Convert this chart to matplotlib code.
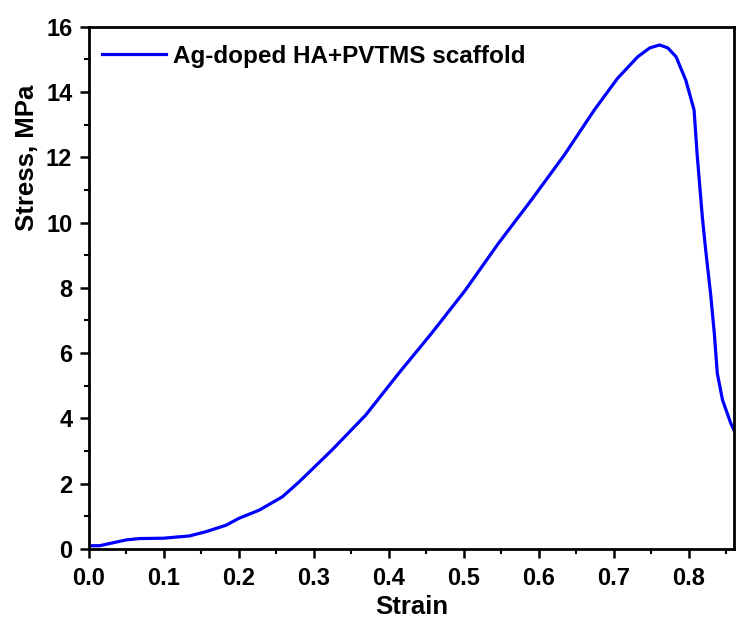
import matplotlib

matplotlib.use("Agg")
import matplotlib.pyplot as plt
from matplotlib.ticker import MultipleLocator

plt.rcParams["font.family"] = ["Liberation Sans", "DejaVu Sans"]
plt.rcParams["font.weight"] = "bold"

# stress-strain curve
strain = [0.0, 0.014, 0.03, 0.05, 0.068, 0.099, 0.134, 0.156, 0.183, 0.2,
          0.227, 0.258, 0.28, 0.324, 0.369, 0.413, 0.457, 0.502, 0.546, 0.59,
          0.634, 0.674, 0.705, 0.732, 0.748, 0.761, 0.772, 0.783, 0.796, 0.807,
          0.811, 0.818, 0.8225, 0.829, 0.834, 0.838, 0.845, 0.856, 0.86]
stress = [0.1, 0.1, 0.18, 0.28, 0.32, 0.33, 0.40, 0.53, 0.73, 0.94,
          1.19, 1.60, 2.05, 3.03, 4.10, 5.38, 6.61, 7.93, 9.36, 10.69,
          12.07, 13.45, 14.42, 15.08, 15.35, 15.44, 15.35, 15.08, 14.36, 13.45,
          12.12, 10.18, 9.16, 7.83, 6.61, 5.38, 4.56, 3.85, 3.65]
label = "Ag-doped HA+PVTMS scaffold"

fig = plt.figure(figsize=(7.36, 6.19), dpi=100)
ax = fig.add_axes([0.1209, 0.1131, 0.997 - 0.1209, 0.9569 - 0.1131])
ax.plot(strain, stress, color="#0000ff", lw=2.3, solid_joinstyle="round", label=label)

ax.set_xlim(0, 0.86)
ax.set_ylim(0, 16)
ax.xaxis.set_major_locator(MultipleLocator(0.1))
ax.xaxis.set_minor_locator(MultipleLocator(0.05))
ax.yaxis.set_major_locator(MultipleLocator(2))
ax.yaxis.set_minor_locator(MultipleLocator(1))
ax.xaxis.set_major_formatter(lambda v, p: f"{v:.1f}")

for s in ax.spines.values():
    s.set_linewidth(2.0)
ax.tick_params(which="major", direction="out", length=6.5, width=1.8, labelsize=17)
ax.tick_params(axis="x", which="major", pad=6.5)
ax.tick_params(axis="y", which="major", pad=5.5)
ax.tick_params(which="minor", direction="out", length=3.5, width=1.5)
ax.tick_params(top=False, right=False, which="both")

ax.set_xlabel("Strain", fontsize=18.5, fontweight="bold", labelpad=3.5)
ax.set_ylabel("Stress, MPa", fontsize=18.5, fontweight="bold")
ax.yaxis.set_label_coords(-0.077, 0.749)

leg = ax.legend(loc="upper left", frameon=False, fontsize=17.5, handlelength=2.63,
                handletextpad=0.3, borderpad=0, borderaxespad=0,
                bbox_to_anchor=(0.02, 0.965))
for t in leg.get_texts():
    t.set_fontweight("bold")

fig.savefig("out.png", dpi=100)
